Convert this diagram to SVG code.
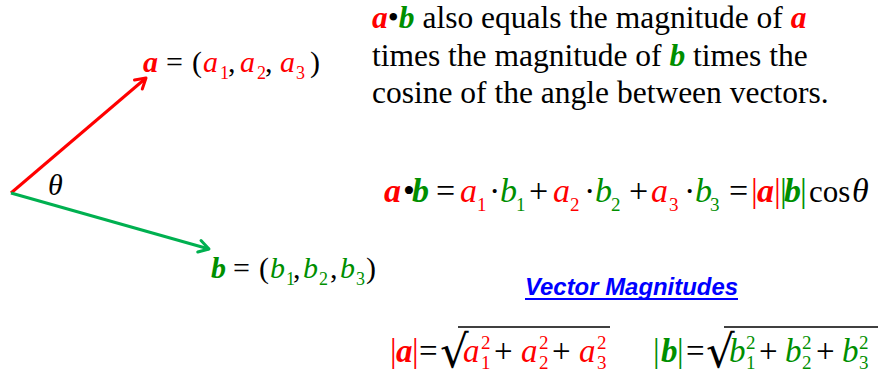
<svg xmlns="http://www.w3.org/2000/svg" width="879" height="374" viewBox="0 0 879 374" font-family="'Liberation Serif', 'Times New Roman', serif">
<style>
  .s { font-family: 'Liberation Serif', 'Times New Roman', serif; fill: #000; }
  .v { font-weight: bold; font-style: italic; }
  .i { font-style: italic; }
  .r { fill: #FF0000; }
  .g { fill: #008F00; }
  .sub { font-style: normal; }
  .title { font-family: 'Liberation Sans', Arial, sans-serif; font-weight: bold; font-style: italic; fill: #0000FF; font-size: 23px; }
</style>
<defs>
  <marker id="headR" markerUnits="userSpaceOnUse" markerWidth="16" markerHeight="16" refX="13" refY="8" orient="auto" viewBox="0 0 16 16">
    <path d="M3,2 L13,8 L3,14" fill="none" stroke="#FF0000" stroke-width="3" stroke-linecap="round" stroke-linejoin="round"/>
  </marker>
  <marker id="headG" markerUnits="userSpaceOnUse" markerWidth="16" markerHeight="16" refX="13" refY="8" orient="auto" viewBox="0 0 16 16">
    <path d="M3,2 L13,8 L3,14" fill="none" stroke="#00B050" stroke-width="3" stroke-linecap="round" stroke-linejoin="round"/>
  </marker>
</defs>

<g id="connectors">
  <line x1="11" y1="193" x2="146" y2="78" stroke="#FF0000" stroke-width="3" marker-end="url(#headR)"/>
  <line x1="11" y1="193" x2="209" y2="249" stroke="#00B050" stroke-width="3" marker-end="url(#headG)"/>
</g>

<g id="theta">
  <text class="s i" x="48" y="195" font-size="30">θ</text>
</g>

<g id="vector-a">
  <text class="s" font-size="30" y="72">
    <tspan x="143" class="v r">a</tspan>
    <tspan x="166">=</tspan>
    <tspan x="192">(</tspan>
    <tspan x="203" class="i r">a</tspan><tspan x="220" y="79" class="sub r" font-size="18">1</tspan>
    <tspan x="228" y="72">,</tspan>
    <tspan x="240" class="i r">a</tspan><tspan x="257" y="79" class="sub r" font-size="18">2</tspan>
    <tspan x="265" y="72">,</tspan>
    <tspan x="280" class="i r">a</tspan><tspan x="296" y="79" class="sub r" font-size="18">3</tspan>
    <tspan x="310" y="72">)</tspan>
  </text>
</g>

<g id="vector-b">
  <text class="s" font-size="30" y="278">
    <tspan x="211" class="v g">b</tspan>
    <tspan x="233">=</tspan>
    <tspan x="259">(</tspan>
    <tspan x="270" class="i g">b</tspan><tspan x="286" y="285" class="sub g" font-size="18">1</tspan>
    <tspan x="293" y="278">,</tspan>
    <tspan x="303" class="i g">b</tspan><tspan x="319" y="285" class="sub g" font-size="18">2</tspan>
    <tspan x="330" y="278">,</tspan>
    <tspan x="340" class="i g">b</tspan><tspan x="356" y="285" class="sub g" font-size="18">3</tspan>
    <tspan x="366" y="278">)</tspan>
  </text>
</g>

<g id="paragraph">
  <text class="s" font-size="31.5">
    <tspan x="372" y="28"><tspan class="v r">a</tspan>•<tspan class="v g">b</tspan> also equals the magnitude of <tspan class="v r">a</tspan></tspan>
    <tspan x="372" y="65.5">times the magnitude of <tspan class="v g">b</tspan> times the</tspan>
    <tspan x="372" y="103">cosine of the angle between vectors.</tspan>
  </text>
</g>

<g id="dot-product-equation">
  <text class="s" font-size="34" y="202">
    <tspan x="384" class="v r">a</tspan>
    <tspan x="403">•</tspan>
    <tspan x="412" class="v g">b</tspan>
    <tspan x="436">=</tspan>
    <tspan x="460" class="i r">a</tspan><tspan x="477" y="211" class="sub r" font-size="19">1</tspan>
    <tspan x="489" y="202">·</tspan>
    <tspan x="500" class="i g">b</tspan><tspan x="516" y="211" class="sub g" font-size="19">1</tspan>
    <tspan x="529" y="202">+</tspan>
    <tspan x="553" class="i r">a</tspan><tspan x="570" y="211" class="sub r" font-size="19">2</tspan>
    <tspan x="584" y="202">·</tspan>
    <tspan x="595" class="i g">b</tspan><tspan x="611" y="211" class="sub g" font-size="19">2</tspan>
    <tspan x="629" y="202">+</tspan>
    <tspan x="651" class="i r">a</tspan><tspan x="669" y="211" class="sub r" font-size="19">3</tspan>
    <tspan x="684" y="202">·</tspan>
    <tspan x="695" class="i g">b</tspan><tspan x="710" y="211" class="sub g" font-size="19">3</tspan>
    <tspan x="729" y="202">=</tspan>
    <tspan x="751" class="r">|</tspan>
    <tspan x="757" class="v r">a</tspan>
    <tspan x="774" class="r">|</tspan>
    <tspan x="780" class="g">|</tspan>
    <tspan x="784" class="v g">b</tspan>
    <tspan x="800" class="g">|</tspan>
    <tspan x="809" font-size="31">cos</tspan>
    <tspan x="852" class="i">θ</tspan>
  </text>
</g>

<g id="heading">
  <text class="title" x="525" y="295" textLength="213" lengthAdjust="spacingAndGlyphs">Vector Magnitudes</text>
  <line x1="525" y1="299" x2="738" y2="299" stroke="#0000FF" stroke-width="2"/>
</g>

<g id="magnitude-a">
  <text class="s" font-size="33" y="362">
    <tspan x="390" class="r">|</tspan>
    <tspan x="396" class="v r">a</tspan>
    <tspan x="412" class="r">|</tspan>
    <tspan x="419">=</tspan>
    <tspan x="463" class="i r">a</tspan><tspan x="481" y="349" class="sub r" font-size="19">2</tspan><tspan x="481" y="369" class="sub r" font-size="19">1</tspan>
    <tspan x="494" y="362">+</tspan>
    <tspan x="521" class="i r">a</tspan><tspan x="539" y="349" class="sub r" font-size="19">2</tspan><tspan x="539" y="369" class="sub r" font-size="19">2</tspan>
    <tspan x="552" y="362">+</tspan>
    <tspan x="579" class="i r">a</tspan><tspan x="597" y="349" class="sub r" font-size="19">2</tspan><tspan x="597" y="369" class="sub r" font-size="19">3</tspan>
  </text>
  <text x="440" y="367" font-size="45" font-family="'DejaVu Serif', serif">√</text>
  <line x1="458" y1="327" x2="610" y2="327" stroke="#000" stroke-width="1.5"/>
</g>

<g id="magnitude-b">
  <text class="s" font-size="33" y="362">
    <tspan x="653" class="g">|</tspan>
    <tspan x="661" class="v g">b</tspan>
    <tspan x="677" class="g">|</tspan>
    <tspan x="686">=</tspan>
    <tspan x="729" class="i g">b</tspan><tspan x="746" y="349" class="sub g" font-size="19">2</tspan><tspan x="746" y="369" class="sub g" font-size="19">1</tspan>
    <tspan x="759" y="362">+</tspan>
    <tspan x="785" class="i g">b</tspan><tspan x="802" y="349" class="sub g" font-size="19">2</tspan><tspan x="802" y="369" class="sub g" font-size="19">2</tspan>
    <tspan x="816" y="362">+</tspan>
    <tspan x="842" class="i g">b</tspan><tspan x="859" y="349" class="sub g" font-size="19">2</tspan><tspan x="859" y="369" class="sub g" font-size="19">3</tspan>
  </text>
  <text x="706" y="367" font-size="45" font-family="'DejaVu Serif', serif">√</text>
  <line x1="724" y1="327" x2="878" y2="327" stroke="#000" stroke-width="1.5"/>
</g>
</svg>
